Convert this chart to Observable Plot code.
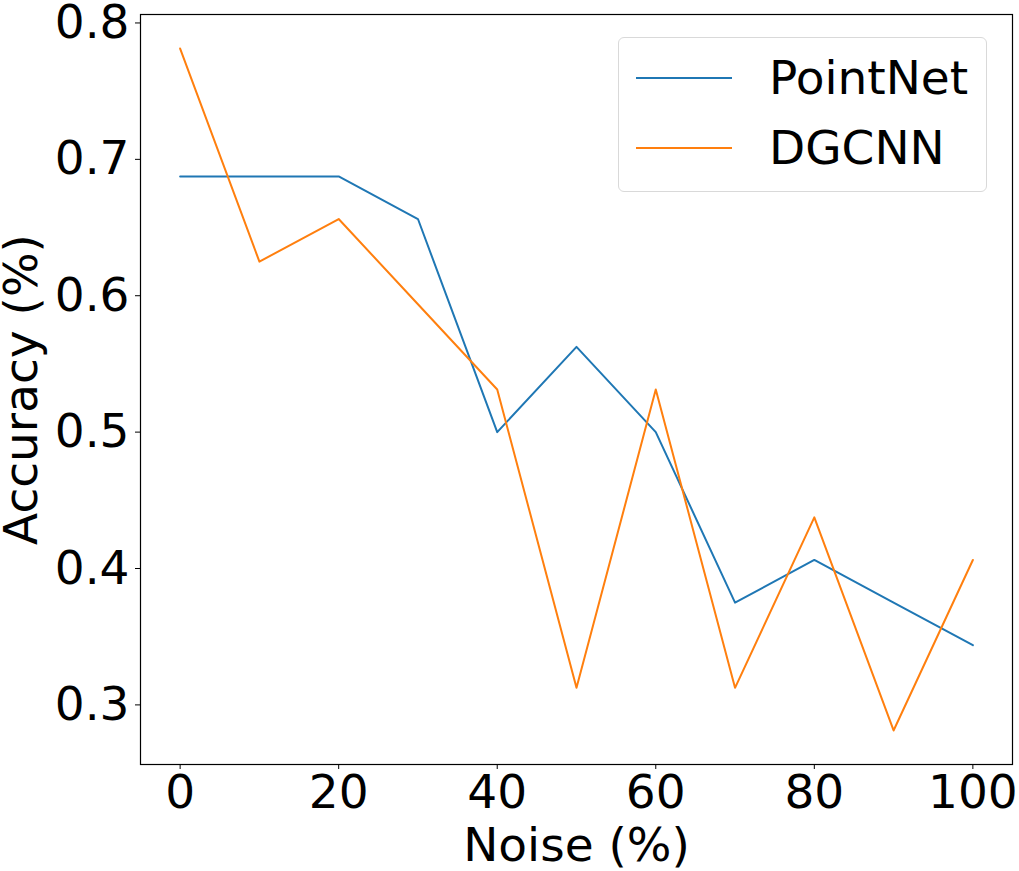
<!DOCTYPE html>
<html><head><meta charset="utf-8">
<script src="https://cdn.jsdelivr.net/npm/d3@7"></script>
<script src="https://cdn.jsdelivr.net/npm/@observablehq/plot@0.6"></script>
<style>
body{margin:0;background:#fff;}
#wrap{position:relative;width:1019px;height:871px;font-family:"DejaVu Sans",sans-serif;}
#wrap svg{overflow:visible;}
#legend{position:absolute;left:618px;top:37px;width:369px;height:155px;border:1.5px solid #d9d9d9;border-radius:6px;background:rgba(255,255,255,0.8);box-sizing:border-box;}
.lg{position:absolute;left:0;height:60px;width:368px;}
.lg svg{position:absolute;left:17px;top:0;}
.lg span{position:absolute;left:150px;font-size:47px;line-height:60px;color:#000;}
</style></head>
<body><div id="wrap"></div>
<script>
const noise = [0, 10, 20, 30, 40, 50, 60, 70, 80, 90, 100];
const pointnet = [0.6875, 0.6875, 0.6875, 0.65625, 0.5, 0.5625, 0.5, 0.375, 0.40625, 0.375, 0.34375];
const dgcnn = [0.78125, 0.625, 0.65625, 0.59375, 0.53125, 0.3125, 0.53125, 0.3125, 0.4375, 0.28125, 0.40625];
const seriesNames = ["PointNet", "DGCNN"];
const seriesColors = ["#1f77b4", "#ff7f0e"];
const xTicks = [0, 20, 40, 60, 80, 100];
const yTicks = [0.3, 0.4, 0.5, 0.6, 0.7, 0.8];

const rows = [];
[pointnet, dgcnn].forEach((vals, s) => vals.forEach((v, i) => rows.push({series: seriesNames[s], noise: noise[i], acc: v})));

const chart = Plot.plot({
  width: 1019, height: 871,
  marginLeft: 140, marginRight: 7, marginTop: 14, marginBottom: 107,
  style: {fontFamily: "DejaVu Sans", background: "#fff", color: "#000", overflow: "visible"},
  x: {domain: [-5, 105]},
  y: {domain: [0.2563, 0.8062]},
  color: {domain: seriesNames, range: seriesColors},
  marks: [
    Plot.frame({stroke: "#000", strokeWidth: 1.2}),
    Plot.axisX({ticks: xTicks, tickSize: 5, tickPadding: 5, fontSize: 47, label: "Noise (%)", labelAnchor: "center", labelArrow: "none", labelOffset: 96}),
    Plot.axisY({ticks: yTicks, tickSize: 5, tickPadding: 6, fontSize: 47, tickFormat: d3.format(".1f"), label: "Accuracy (%)", labelAnchor: "center", labelArrow: "none", labelOffset: 137}),
    Plot.line(rows, {x: "noise", y: "acc", z: "series", stroke: "series", strokeWidth: 2})
  ]
});
const wrap = document.getElementById("wrap");
wrap.appendChild(chart);

const legend = document.createElement("div");
legend.id = "legend";
seriesNames.forEach((n, i) => {
  const row = document.createElement("div");
  row.className = "lg";
  row.style.top = (10 + i * 70) + "px";
  row.innerHTML = `<svg width="100" height="60"><line x1="0" x2="96" y1="30" y2="30" stroke="${seriesColors[i]}" stroke-width="2"/></svg><span>${n}</span>`;
  legend.appendChild(row);
});
wrap.appendChild(legend);
</script></body></html>
